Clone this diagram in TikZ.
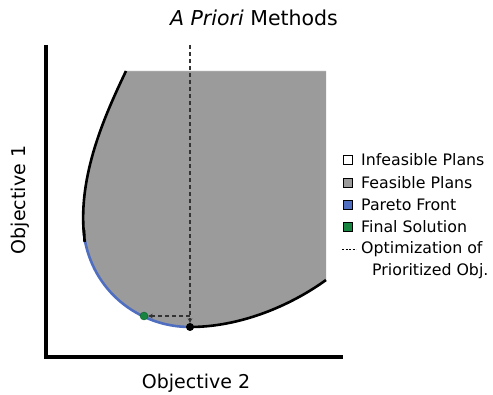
\documentclass[tikz,border=0pt]{standalone}
\usepackage{fontspec}
\setmainfont{DejaVu Sans}
\usetikzlibrary{arrows.meta}
\definecolor{feasgray}{HTML}{9B9B9B}
\definecolor{paretoblue}{HTML}{4F6EC0}
\definecolor{finalgreen}{HTML}{17843F}
\begin{document}
\begin{tikzpicture}[x=1pt,y=-1pt,
  axis/.style={line width=3.6pt},
  boundary/.style={line width=2.6pt},
  guide/.style={line width=1.1pt,draw=black!80,dash pattern=on 4pt off 3pt},
  legbox/.style={draw,line width=0.7pt,minimum size=9pt,inner sep=0pt},
  legtext/.style={anchor=west,font=\fontsize{15.8}{19}\selectfont,inner sep=0pt},
  dot/.style={circle,inner sep=0pt,minimum size=8pt}]
\useasboundingbox (0,0) rectangle (493,395);

% feasible region
\fill[feasgray] (126,71) -- (326,71) -- (326,280)
  .. controls (290,306) and (240,327) .. (190,327)
  .. controls (140,327) and (92,292) .. (84,235)
  .. controls (78,175) and (105,115) .. (126,71) -- cycle;
\draw[gray!70,line width=0.6pt] (126,71) -- (326,71);

% boundary: dominated part, Pareto front, lower part
\draw[boundary] (84,235) .. controls (78,175) and (105,115) .. (126,71);
\draw[boundary] (326,280) .. controls (290,306) and (240,327) .. (190,327);
\draw[boundary,paretoblue] (190,327) .. controls (140,327) and (92,292) .. (84,235);
\draw[boundary] (84.6,242) .. controls (83.8,236) .. (84,230);

% axes
\coordinate (origin) at (46,357);
\coordinate (ytop) at (46,45);
\coordinate (xend) at (343,357);
\draw[axis] (ytop) -- (origin) -- (xend);

% optimum points and prioritized optimisation
\node[dot,fill=black] (opt) at (190,327) {};
\node[dot,fill=finalgreen,draw=finalgreen!70!black,line width=0.4pt] (final) at (144,316) {};
\coordinate (vtop) at (190,45);
\coordinate (turn) at (190,316);
\draw[guide,-{Stealth[length=4.5pt,width=4.5pt]}] (vtop) -- (opt.north);
\draw[guide,-{Stealth[length=4.5pt,width=4.5pt]}] (turn) -- (final.east);

% labels
\node[font=\fontsize{20.5}{24}\selectfont] (title) at (254,18) {\textit{A Priori} Methods};
\node[font=\fontsize{19}{22}\selectfont,rotate=90] (ylab) at (20,200) {Objective 1};
\node[font=\fontsize{19}{22}\selectfont] (xlab) at (196,383) {Objective 2};

% legend
\node[legbox,fill=white] (l1) at (348,160) {};
\node[legtext] (t1) at (361,160) {Infeasible Plans};
\node[legbox,fill=feasgray] (l2) at (348,183) {};
\node[legtext] (t2) at (361,183) {Feasible Plans};
\node[legbox,fill=paretoblue] (l3) at (348,205) {};
\node[legtext] (t3) at (361,205) {Pareto Front};
\node[legbox,fill=finalgreen] (l4) at (348,227) {};
\node[legtext] (t4) at (361,227) {Final Solution};
\coordinate (d1) at (342,249);
\coordinate (d2) at (356,249);
\draw[line width=0.9pt,dash pattern=on 2pt off 1.5pt] (d1) -- (d2);
\node[legtext] (t5) at (361,249) {Optimization of};
\node[legtext] (t6) at (372,271) {Prioritized Obj.};
\end{tikzpicture}
\end{document}
